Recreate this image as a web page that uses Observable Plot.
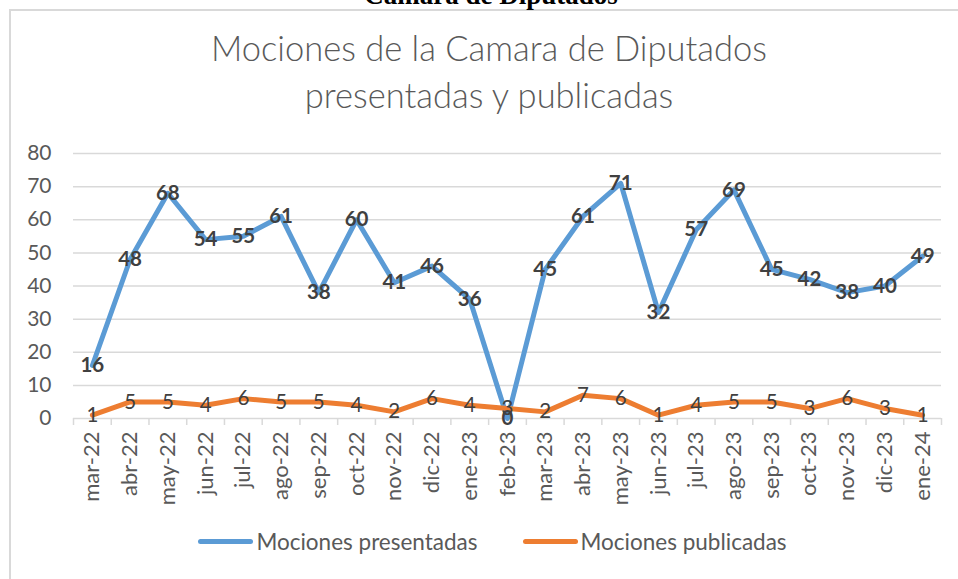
<!DOCTYPE html>
<html>
<head>
<meta charset="utf-8">
<script src="https://cdn.jsdelivr.net/npm/d3@7"></script>
<script src="https://cdn.jsdelivr.net/npm/@observablehq/plot@0.6"></script>
<style>
  html, body { margin: 0; padding: 0; background: #fff; }
  #wrap { position: relative; width: 958px; height: 579px; overflow: hidden; background: #fff; font-family: Lato, sans-serif; }
  #frame { position: absolute; left: 9px; top: 9px; width: 1000px; height: 600px; border-left: 2px solid #d9d9d9; border-top: 2px solid #d9d9d9; }
  #top { position: absolute; left: 12px; top: -20px; width: 958px; text-align: center; font: bold 27px "Liberation Serif", serif; color: #000; }
  #title { position: absolute; left: 20px; top: 24px; width: 938px; text-align: center; font-size: 34.5px; font-weight: 300; line-height: 47px; color: #595959; }
  #chart { position: absolute; left: 0; top: 130px; }
  #legend { position: absolute; left: 0; top: 528px; width: 958px; display: flex; justify-content: center; padding-left: 27px; box-sizing: border-box; font-size: 22.5px; color: #595959; }
  .item { display: flex; align-items: center; margin: 0 22.5px; }
  .sw { width: 55px; height: 5px; border-radius: 3px; margin-right: 3px; }
</style>
</head>
<body>
<div id="wrap">
  <div id="frame"></div>
  <div id="top">Camara de Diputados</div>
  <div id="title">Mociones de la Camara de Diputados<br>presentadas y publicadas</div>
  <div id="chart"></div>
  <div id="legend"></div>
</div>
<script>
const months = ["mar-22","abr-22","may-22","jun-22","jul-22","ago-22","sep-22","oct-22","nov-22","dic-22","ene-23","feb-23","mar-23","abr-23","may-23","jun-23","jul-23","ago-23","sep-23","oct-23","nov-23","dic-23","ene-24"];
const presentadas = [16,48,68,54,55,61,38,60,41,46,36,0,45,61,71,32,57,69,45,42,38,40,49];
const publicadas = [1,5,5,4,6,5,5,4,2,6,4,3,2,7,6,1,4,5,5,3,6,3,1];
const yTicks = [0,10,20,30,40,50,60,70,80];
const seriesNames = ["Mociones presentadas","Mociones publicadas"];
const seriesColors = ["#5B9BD5","#ED7D31"];

const idx = months.map((m, i) => i);
const boundaries = d3.range(-0.5, months.length, 1);
const dataP = idx.map(i => ({i, v: presentadas[i]}));
const dataU = idx.map(i => ({i, v: publicadas[i]}));

const chart = Plot.plot({
  width: 958,
  height: 380,
  marginLeft: 73,
  marginRight: 17,
  marginTop: 23,
  marginBottom: 92,
  style: {fontFamily: "Lato, sans-serif", background: "transparent"},
  x: {type: "linear", domain: [-0.5, months.length - 0.5]},
  y: {domain: [0, 80]},
  marks: [
    Plot.gridY(yTicks.filter(d => d > 0), {stroke: "#d9d9d9", strokeOpacity: 1, strokeWidth: 1.5}),
    Plot.ruleY([0], {stroke: "#d9d9d9", strokeWidth: 1.5}),
    Plot.axisY({ticks: yTicks, tickSize: 0, tickPadding: 22, fontSize: 21, fill: "#595959", label: null}),
    Plot.axisX({ticks: boundaries, tickSize: 7, tickFormat: () => "", stroke: "#d9d9d9", strokeWidth: 1.5, strokeOpacity: 1, label: null}),
    Plot.axisX({ticks: idx, tickSize: 0, tickPadding: 13, tickRotate: -90, tickFormat: i => months[i], fontSize: 22, fill: "#595959", label: null}),
    Plot.lineY(dataP, {x: "i", y: "v", stroke: seriesColors[0], strokeWidth: 5, strokeLinejoin: "round", strokeLinecap: "round"}),
    Plot.lineY(dataU, {x: "i", y: "v", stroke: seriesColors[1], strokeWidth: 5, strokeLinejoin: "round", strokeLinecap: "round"}),
    Plot.text(dataP, {x: "i", y: "v", text: d => String(d.v), fontSize: 20.5, fontWeight: "bold", fill: "#404040"}),
    Plot.text(dataU, {x: "i", y: "v", text: d => String(d.v), fontSize: 20.5, fill: "#404040"})
  ]
});
document.getElementById("chart").appendChild(chart);

const legend = document.getElementById("legend");
seriesNames.forEach((name, k) => {
  const item = document.createElement("div");
  item.className = "item";
  const sw = document.createElement("div");
  sw.className = "sw";
  sw.style.background = seriesColors[k];
  const t = document.createElement("span");
  t.textContent = name;
  item.appendChild(sw);
  item.appendChild(t);
  legend.appendChild(item);
});
</script>
</body>
</html>
